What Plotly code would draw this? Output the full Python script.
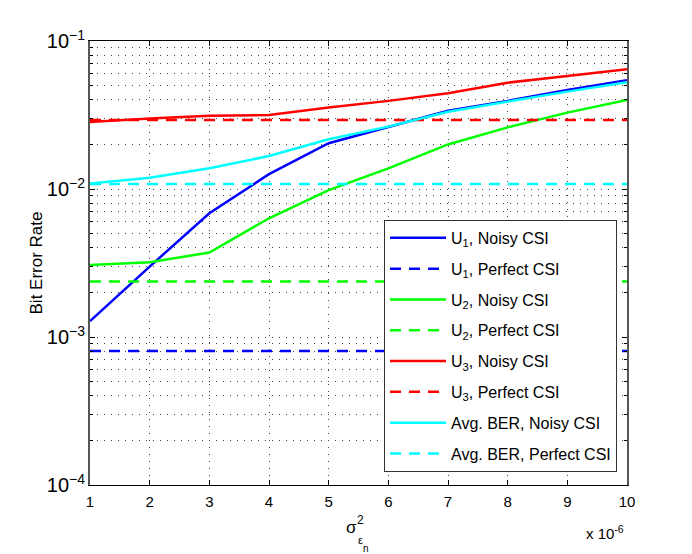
import plotly.graph_objects as go

# sigma^2 values (x 10^-6)
x_vals = [1, 2, 3, 4, 5, 6, 7, 8, 9, 10]

# noisy CSI BER curves
u1_noisy = [0.00128, 0.00299, 0.00686, 0.0126, 0.0204, 0.0264, 0.0338, 0.0394, 0.0467, 0.0544]
u2_noisy = [0.00306, 0.0032, 0.00372, 0.00634, 0.00984, 0.0138, 0.0200, 0.0261, 0.0328, 0.0399]
u3_noisy = [0.0284, 0.0300, 0.0313, 0.0316, 0.0356, 0.0394, 0.0443, 0.0523, 0.058, 0.0644]
avg_noisy = [0.0109, 0.0119, 0.0138, 0.0167, 0.0217, 0.0264, 0.0333, 0.039, 0.0455, 0.0526]

# perfect CSI levels (flat)
u1_perfect = 0.000804
u2_perfect = 0.00237
u3_perfect = 0.0292
avg_perfect = 0.0108

series = [
    ("U<sub>1</sub>, Noisy CSI", u1_noisy, "#0000ff", "solid"),
    ("U<sub>1</sub>, Perfect CSI", [u1_perfect] * len(x_vals), "#0000ff", "11px,8px"),
    ("U<sub>2</sub>, Noisy CSI", u2_noisy, "#00ff00", "solid"),
    ("U<sub>2</sub>, Perfect CSI", [u2_perfect] * len(x_vals), "#00ff00", "11px,8px"),
    ("U<sub>3</sub>, Noisy CSI", u3_noisy, "#ff0000", "solid"),
    ("U<sub>3</sub>, Perfect CSI", [u3_perfect] * len(x_vals), "#ff0000", "11px,8px"),
    ("Avg. BER, Noisy CSI", avg_noisy, "#00ffff", "solid"),
    ("Avg. BER, Perfect CSI", [avg_perfect] * len(x_vals), "#00ffff", "11px,8px"),
]

fig = go.Figure()
for i, (name, ys, color, dash) in enumerate(series):
    fig.add_trace(go.Scatter(
        x=x_vals, y=ys, name=name, mode="lines",
        line=dict(color=color, width=2.5, dash=dash),
        legendgroup="g%d" % i,
    ))

font = "Liberation Sans, Arial, sans-serif"
grid = dict(showgrid=True, gridcolor="#444444", griddash="1px,6px", gridwidth=1)

# page body adds 8px offset, so the figure is a bit smaller than the window
fig.update_layout(
    width=684, height=546,
    paper_bgcolor="white", plot_bgcolor="white",
    margin=dict(l=82, r=65, t=33, b=69),
    font=dict(family=font, size=16, color="black"),
    showlegend=True,
    legend=dict(
        x=0.5475, y=0.597, xanchor="left", yanchor="top",
        bgcolor="white", bordercolor="#333333", borderwidth=1,
        font=dict(size=16), tracegroupgap=7, itemwidth=56,
    ),
    xaxis=dict(
        range=[1, 10], tickmode="linear", tick0=1, dtick=1,
        ticks="inside", ticklen=5, tickcolor="black", ticklabelstandoff=3,
        showline=True, linecolor="black", linewidth=1, mirror="ticks",
        zeroline=False, tickfont=dict(size=15), **grid,
    ),
    yaxis=dict(
        type="log", range=[-4, -1], dtick=1, exponentformat="power",
        ticks="inside", ticklen=5, tickcolor="black",
        showline=True, linecolor="#555555", linewidth=1.5, mirror="ticks",
        zeroline=False, tickfont=dict(size=16), **grid,
        title=dict(text="Bit Error Rate", standoff=0, font=dict(size=17)),
        minor=dict(dtick="D1", ticks="inside", ticklen=3, tickcolor="black", **grid),
    ),
    annotations=[
        dict(text="x 10<sup>-6</sup>", xref="paper", yref="paper", x=0.998, y=-0.106,
             xanchor="right", yanchor="middle", showarrow=False, font=dict(size=15)),
        dict(text="σ", xref="x", yref="paper", x=5.39, y=-0.0968, xanchor="center",
             yanchor="middle", showarrow=False, font=dict(size=17)),
        dict(text="2", xref="x", yref="paper", x=5.39, y=-0.0968, xshift=9, yshift=8,
             xanchor="center", yanchor="middle", showarrow=False, font=dict(size=12)),
        dict(text="ε", xref="x", yref="paper", x=5.39, y=-0.0968, xshift=9, yshift=-12,
             xanchor="center", yanchor="middle", showarrow=False, font=dict(size=11)),
        dict(text="n", xref="x", yref="paper", x=5.39, y=-0.0968, xshift=14, yshift=-21,
             xanchor="center", yanchor="middle", showarrow=False, font=dict(size=10)),
    ],
)

fig.write_html("out.html")
